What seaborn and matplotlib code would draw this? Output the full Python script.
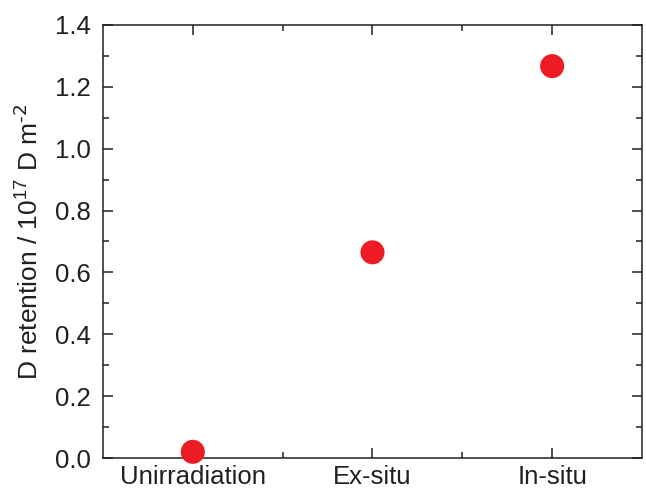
import matplotlib
matplotlib.use("Agg")
import matplotlib.pyplot as plt
import seaborn as sns
import pandas as pd
from matplotlib.ticker import MultipleLocator, FixedLocator

categories = ["Unirradiation", "Ex-situ", "In-situ"]
retention = [0.02, 0.665, 1.267]

sns.set_style("ticks")
plt.rcParams['font.family'] = ['Liberation Sans', 'DejaVu Sans']
plt.rcParams['mathtext.default'] = 'regular'

df = pd.DataFrame({"cat": categories, "val": retention})

fig = plt.figure(figsize=(6.46, 4.90), dpi=100)
ax = fig.add_axes([0.1594, 0.0653, 0.9938 - 0.1594, 0.949 - 0.0653])
sns.scatterplot(data=df, x="cat", y="val", ax=ax, s=300, color="#ED1C24",
                edgecolor="none", zorder=3, clip_on=False)

ax.set_xlim(-0.5, 2.5)
ax.set_ylim(0, 1.4)
ax.yaxis.set_major_locator(MultipleLocator(0.2))
ax.yaxis.set_minor_locator(MultipleLocator(0.1))
ax.xaxis.set_minor_locator(FixedLocator([0.5, 1.5]))
ax.set_yticklabels([f"{v:.1f}" for v in ax.get_yticks()])

for s in ax.spines.values():
    s.set_visible(True)
    s.set_linewidth(1.1)
    s.set_color("#231F20")

ax.tick_params(which="both", direction="in", top=True, right=True,
               width=1.1, color="#231F20", labelsize=18.5, labelcolor="#231F20")
ax.tick_params(which="major", length=7)
ax.tick_params(which="minor", length=4)
ax.tick_params(axis="x", pad=5)
ax.tick_params(axis="y", pad=9)

ax.set_xlabel("")
ax.set_ylabel(r"D retention / 10$^{17}$ D m$^{\text{-2}}$", fontsize=19,
              color="#231F20", labelpad=8)

fig.savefig("out.png", dpi=100)
